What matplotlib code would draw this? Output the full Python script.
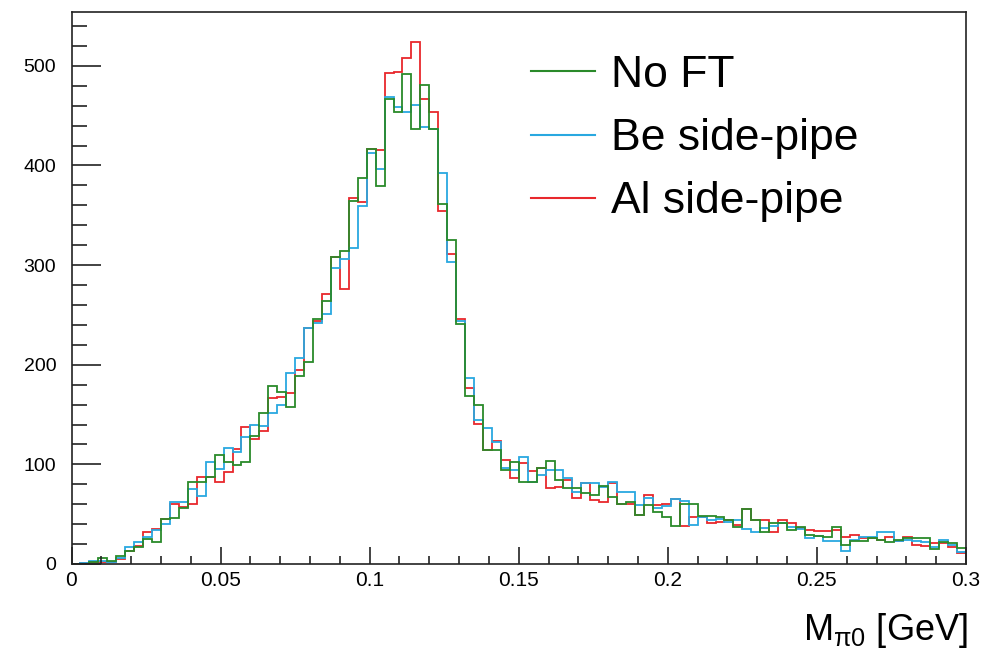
#!/usr/bin/env python3
"""Reconstructed invariant-mass histograms of pi0 candidates for three
forward-tagger configurations, drawn ROOT-style."""

import numpy as np
import matplotlib
matplotlib.use("Agg")
import matplotlib.pyplot as plt
from matplotlib.ticker import MultipleLocator

# histogram binning: 100 bins over [0, 0.3] GeV
BIN_LO, BIN_HI, N_BINS = 0.0, 0.3, 100

no_ft = [
    0, 0, 2, 6, 3, 8, 13, 17, 25, 22,
    45, 46, 56, 82, 82, 87, 109, 102, 99, 102,
    128, 152, 179, 173, 158, 189, 203, 246, 264, 308,
    314, 364, 387, 417, 379, 467, 454, 492, 437, 481,
    437, 361, 325, 241, 169, 160, 114, 114, 94, 102,
    82, 82, 96, 103, 84, 76, 76, 71, 69, 78,
    67, 60, 62, 49, 59, 52, 47, 38, 60, 60,
    48, 48, 47, 44, 37, 55, 44, 32, 41, 41,
    34, 37, 29, 28, 27, 37, 19, 23, 23, 26,
    24, 22, 24, 26, 26, 26, 15, 22, 21, 16,
]

be_pipe = [
    0, 1, 3, 3, 2, 6, 17, 22, 27, 34,
    40, 62, 62, 75, 68, 102, 95, 116, 112, 127,
    140, 138, 152, 160, 192, 207, 237, 242, 251, 297,
    306, 317, 359, 412, 396, 469, 459, 454, 461, 439,
    437, 392, 303, 244, 187, 145, 136, 122, 96, 94,
    107, 82, 89, 94, 94, 86, 72, 81, 81, 77,
    82, 72, 72, 59, 66, 56, 58, 65, 63, 39,
    47, 44, 45, 42, 44, 35, 32, 36, 38, 41,
    37, 35, 26, 28, 23, 23, 13, 24, 27, 27,
    32, 32, 23, 24, 23, 22, 17, 24, 19, 12,
]

al_pipe = [
    0, 1, 2, 2, 2, 5, 13, 18, 32, 35,
    45, 60, 57, 60, 87, 87, 82, 92, 115, 137,
    125, 133, 167, 168, 172, 195, 237, 244, 271, 308,
    276, 367, 363, 417, 416, 493, 494, 508, 524, 467,
    454, 354, 311, 246, 177, 141, 114, 123, 104, 86,
    101, 93, 96, 76, 77, 84, 66, 81, 64, 62,
    81, 60, 60, 49, 69, 59, 60, 65, 38, 47,
    47, 41, 42, 44, 39, 55, 44, 44, 32, 44,
    41, 36, 34, 33, 33, 34, 27, 29, 26, 26,
    24, 27, 23, 27, 19, 18, 21, 21, 17, 11,
]

labels = ["No FT", "Be side-pipe", "Al side-pipe"]
colors = ["#2a8a2a", "#29a8e0", "#e8282c"]

plt.rcParams["font.family"] = ["Liberation Sans", "DejaVu Sans"]
plt.rcParams["mathtext.fontset"] = "custom"
plt.rcParams["mathtext.rm"] = "Liberation Sans"
plt.rcParams["mathtext.it"] = "Liberation Sans:italic"

fig = plt.figure(figsize=(9.82, 6.54), dpi=100)
ax = fig.add_axes([71.5 / 982, 1 - 564 / 654, (966 - 71.5) / 982, (564 - 12) / 654])

edges = np.linspace(BIN_LO, BIN_HI, N_BINS + 1)
handles = {}
# red first, green last so green sits on top as in the original
for vals, lab, col in reversed(list(zip([no_ft, be_pipe, al_pipe], labels, colors))):
    handles[lab] = ax.stairs(vals, edges, color=col, linewidth=1.3, baseline=None)

ax.set_xlim(BIN_LO, BIN_HI)
ax.set_ylim(0, 554)

ax.xaxis.set_major_locator(MultipleLocator(0.05))
ax.xaxis.set_minor_locator(MultipleLocator(0.01))
ax.yaxis.set_major_locator(MultipleLocator(100))
ax.yaxis.set_minor_locator(MultipleLocator(20))
ax.xaxis.set_major_formatter(matplotlib.ticker.FuncFormatter(lambda v, p: f"{v:g}"))

ax.tick_params(axis="both", which="both", direction="in", top=False, right=False,
               colors="#222222", labelcolor="black")
ax.tick_params(axis="x", which="major", length=12, width=1.2, labelsize=15, pad=5)
ax.tick_params(axis="x", which="minor", length=6, width=1.2)
ax.tick_params(axis="y", which="major", length=21, width=1.2, labelsize=14, pad=11)
ax.tick_params(axis="y", which="minor", length=10.5, width=1.2)
for sp in ax.spines.values():
    sp.set_linewidth(1.2)
    sp.set_color("#222222")

fig.text(968 / 982, 1 - 630 / 654, r"M$_{\mathrm{\pi0}}$ [GeV]", fontsize=26,
         ha="right", va="center")

leg = ax.legend([handles[l] for l in labels], labels, loc="upper left",
                bbox_to_anchor=(531 / 982, 1 - 55 / 654), bbox_transform=fig.transFigure,
                frameon=False, fontsize=32, handlelength=1.45, handletextpad=0.35,
                labelspacing=0.5, borderpad=0.0, borderaxespad=0.0)
for h in leg.legend_handles:
    h.set_linewidth(1.5)

fig.savefig("out.png", dpi=100)
